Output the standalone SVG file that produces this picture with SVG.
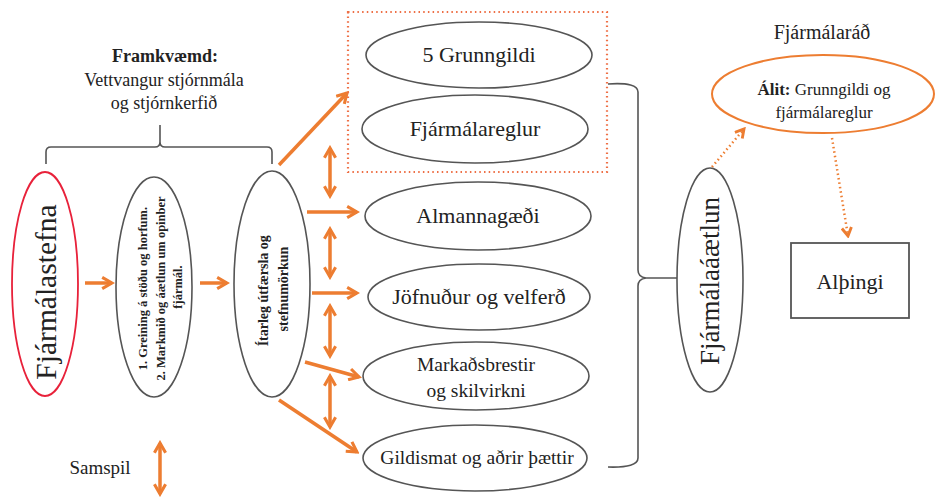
<svg xmlns="http://www.w3.org/2000/svg" width="936" height="499" viewBox="0 0 936 499" font-family="'Liberation Serif', 'Times New Roman', 'DejaVu Serif', serif">
<style>
text{fill:#222;}
.ell{fill:#fff;stroke:#555;stroke-width:1.6;}
.oa{stroke:#ED7D31;stroke-width:3.5;fill:none;}
.od{stroke:#ED7D31;stroke-width:2.5;fill:none;stroke-dasharray:1.5 3;}
.br{stroke:#555;stroke-width:1.6;fill:none;}
</style>
<defs>
<marker id="ah" viewBox="0 0 10 10" refX="8" refY="5" markerWidth="14" markerHeight="14" markerUnits="userSpaceOnUse" orient="auto-start-reverse">
<path d="M1,1 L8,5 L1,9" fill="none" stroke="#ED7D31" stroke-width="2.2"/>
</marker>
<marker id="ahd" viewBox="0 0 10 10" refX="8" refY="5" markerWidth="12" markerHeight="12" markerUnits="userSpaceOnUse" orient="auto">
<path d="M1,1 L8,5 L1,9" fill="none" stroke="#ED7D31" stroke-width="2.4"/>
</marker>
</defs>

<g id="framkvaemd-label">
<text x="165" y="62" font-size="18" font-weight="bold" text-anchor="middle">Framkvæmd:</text>
<text x="164" y="86" font-size="18" text-anchor="middle">Vettvangur stjórnmála</text>
<text x="164" y="109" font-size="18" text-anchor="middle">og stjórnkerfið</text>
</g>

<g id="connectors">
<path class="br" d="M46,164 L46,152 Q46,147 51,147 L155,147 Q160,147 160,142 L160,125 M160,142 Q160,147 165,147 L267,147 Q272,147 272,152 L272,164"/>
<path class="br" d="M608,84 Q638,82 638,92 L638,270 Q638,277 646,278 Q638,279 638,286 L638,458 Q638,468 608,467 M646,278 L678,278"/>
<line class="oa" x1="85" y1="283" x2="112" y2="283" marker-end="url(#ah)"/>
<line class="oa" x1="200" y1="283" x2="227" y2="283" marker-end="url(#ah)"/>
<line class="oa" x1="279" y1="165" x2="347" y2="93" marker-end="url(#ah)"/>
<line class="oa" x1="307" y1="212" x2="357" y2="212" marker-end="url(#ah)"/>
<line class="oa" x1="312" y1="293" x2="357" y2="293" marker-end="url(#ah)"/>
<line class="oa" x1="305" y1="362" x2="359" y2="377" marker-end="url(#ah)"/>
<line class="oa" x1="279" y1="400" x2="357" y2="452" marker-end="url(#ah)"/>
<line class="oa" x1="330" y1="148" x2="330" y2="196" marker-start="url(#ah)" marker-end="url(#ah)"/>
<line class="oa" x1="330" y1="229" x2="330" y2="277" marker-start="url(#ah)" marker-end="url(#ah)"/>
<line class="oa" x1="330" y1="306" x2="330" y2="356" marker-start="url(#ah)" marker-end="url(#ah)"/>
<line class="oa" x1="330" y1="376" x2="330" y2="427" marker-start="url(#ah)" marker-end="url(#ah)"/>
<line class="oa" x1="160" y1="443" x2="160" y2="494" marker-start="url(#ah)" marker-end="url(#ah)"/>
<line class="od" x1="712" y1="167" x2="744" y2="129" marker-end="url(#ahd)"/>
<line class="od" x1="832" y1="138" x2="848" y2="236" marker-end="url(#ahd)"/>
<rect x="348" y="12" width="259" height="160" fill="none" stroke="#EE6F45" stroke-width="2.2" stroke-dasharray="1.5 3.2"/>
</g>

<g id="fjarmalastefna">
<ellipse cx="45" cy="284" rx="33" ry="112" fill="#fff" stroke="#E8213A" stroke-width="1.8"/>
<text transform="translate(56,292) rotate(-90)" font-size="29.5" text-anchor="middle">Fjármálastefna</text>
</g>

<g id="greining">
<ellipse class="ell" cx="154" cy="287" rx="38" ry="110"/>
<text transform="translate(154,287) rotate(-90)" font-size="12.5" font-weight="bold" text-anchor="middle">
<tspan x="0" y="-7">1. Greining á stöðu og horfum.</tspan>
<tspan x="0" y="10.5">2. Markmið og áætlun um opinber</tspan>
<tspan x="0" y="28">fjármál.</tspan>
</text>
</g>

<g id="itarleg">
<ellipse class="ell" cx="272" cy="284" rx="38" ry="113"/>
<text transform="translate(272,289) rotate(-90)" font-size="14" font-weight="bold" text-anchor="middle">
<tspan x="0" y="-4">Ítarleg útfærsla og</tspan>
<tspan x="0" y="16">stefnumörkun</tspan>
</text>
</g>

<g id="grunngildi">
<ellipse class="ell" cx="479" cy="55" rx="113" ry="33"/>
<text x="479" y="62" font-size="22" text-anchor="middle">5 Grunngildi</text>
</g>

<g id="fjarmalareglur">
<ellipse class="ell" cx="475" cy="129" rx="113" ry="34"/>
<text x="475" y="136" font-size="22" text-anchor="middle">Fjármálareglur</text>
</g>

<g id="almannagaedi">
<ellipse class="ell" cx="478" cy="216" rx="113" ry="34"/>
<text x="478" y="223" font-size="22" text-anchor="middle">Almannagæði</text>
</g>

<g id="jofnudur">
<ellipse class="ell" cx="479" cy="297" rx="111" ry="33"/>
<text x="479" y="304" font-size="22" text-anchor="middle">Jöfnuður og velferð</text>
</g>

<g id="markadsbrestir">
<ellipse class="ell" cx="476" cy="376" rx="113" ry="34"/>
<text x="476" y="371" font-size="19.5" text-anchor="middle">Markaðsbrestir</text>
<text x="476" y="397" font-size="19.5" text-anchor="middle">og skilvirkni</text>
</g>

<g id="gildismat">
<ellipse class="ell" cx="475" cy="458" rx="112" ry="33"/>
<text x="477" y="464" font-size="19.5" text-anchor="middle">Gildismat og aðrir þættir</text>
</g>

<g id="fjarmalaaaetlun">
<ellipse class="ell" cx="710" cy="280" rx="33" ry="112"/>
<text transform="translate(719,281) rotate(-90)" font-size="27" text-anchor="middle">Fjármálaáætlun</text>
</g>

<g id="fjarmalarad">
<text x="822" y="39" font-size="20" text-anchor="middle">Fjármálaráð</text>
<ellipse cx="823" cy="94" rx="111" ry="39" fill="#fff" stroke="#ED7D31" stroke-width="2"/>
<text x="824" y="95" font-size="17" text-anchor="middle"><tspan font-weight="bold">Álit:</tspan> Grunngildi og</text>
<text x="824" y="118" font-size="17" text-anchor="middle">fjármálareglur</text>
</g>

<g id="althingi">
<rect x="791" y="243" width="118" height="75" fill="#fff" stroke="#555" stroke-width="1.8"/>
<text x="850" y="289" font-size="22" text-anchor="middle">Alþingi</text>
</g>

<g id="samspil">
<text x="100" y="474" font-size="19" text-anchor="middle">Samspil</text>
</g>
</svg>
